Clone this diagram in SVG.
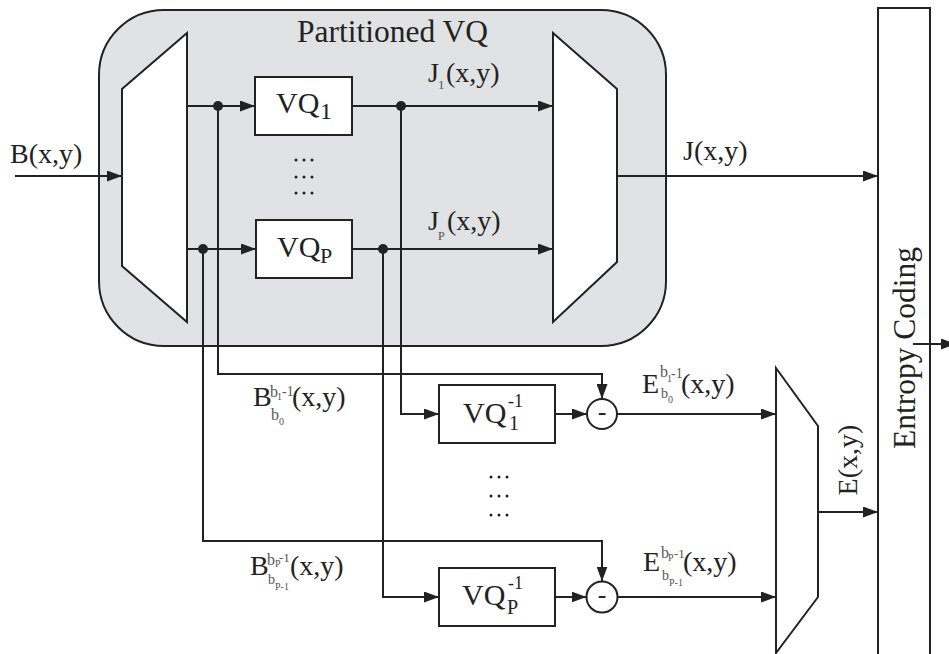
<svg xmlns="http://www.w3.org/2000/svg" width="949" height="654" viewBox="0 0 949 654" font-family="'Liberation Serif', 'DejaVu Serif', serif">
<defs>
<marker id="ah" markerUnits="userSpaceOnUse" markerWidth="15" markerHeight="11" refX="15" refY="5.5" orient="auto"><path d="M0,0 L15,5.5 L0,11 z" fill="#222"/></marker>
</defs>
<style>
.w{fill:#fff;stroke:#222;stroke-width:2}
.c{fill:none;stroke:#222;stroke-width:2;marker-end:url(#ah)}
.d{fill:#222}
text{font-family:'Liberation Serif','DejaVu Serif',serif;fill:#222}
.m{font-size:28px}
.t{font-size:30px}
.g{fill:#555}
</style>
<rect width="949" height="654" fill="#fff"/>

<g id="partitioned-vq">
<rect x="99" y="10" width="567" height="336" rx="65" fill="#e1e2e4" stroke="#222" stroke-width="2"/>
<text x="297" y="42" class="t" style="font-size:31.5px">Partitioned VQ</text>
</g>

<g id="demux"><polygon class="w" points="187,33 122,89 122,266 187,322"/></g>
<g id="mux"><polygon class="w" points="553,33 617,89 617,262 553,322"/></g>

<g id="vq1"><rect class="w" x="255" y="77" width="97" height="58"/>
<text class="t" x="276" y="113">VQ<tspan font-size="24" x="320" y="119">1</tspan></text></g>
<g id="vqp"><rect class="w" x="256" y="220" width="96" height="58"/>
<text class="t" x="277" y="257">VQ<tspan font-size="22" x="320" y="263">P</tspan></text></g>

<g id="dots-top" class="d">
<circle cx="296" cy="160" r="1.5"/><circle cx="304" cy="160" r="1.5"/><circle cx="312" cy="160" r="1.5"/>
<circle cx="296" cy="177" r="1.5"/><circle cx="304" cy="177" r="1.5"/><circle cx="312" cy="177" r="1.5"/>
<circle cx="296" cy="193" r="1.5"/><circle cx="304" cy="193" r="1.5"/><circle cx="312" cy="193" r="1.5"/>
</g>

<g id="vq1inv"><rect class="w" x="439" y="385" width="116" height="58"/>
<text class="t" x="463" y="423">VQ<tspan font-size="18" x="508" y="407">-1</tspan><tspan font-size="20" x="509" y="430">1</tspan></text></g>
<g id="vqpinv"><rect class="w" x="439" y="568" width="116" height="58"/>
<text class="t" x="462" y="605">VQ<tspan font-size="18" x="508" y="589">-1</tspan><tspan font-size="20" x="507" y="614">P</tspan></text></g>

<g id="dots-bottom" class="d">
<circle cx="491" cy="477" r="1.5"/><circle cx="499" cy="477" r="1.5"/><circle cx="507" cy="477" r="1.5"/>
<circle cx="491" cy="496" r="1.5"/><circle cx="499" cy="496" r="1.5"/><circle cx="507" cy="496" r="1.5"/>
<circle cx="491" cy="515" r="1.5"/><circle cx="499" cy="515" r="1.5"/><circle cx="507" cy="515" r="1.5"/>
</g>

<g id="sub1"><circle class="w" cx="602" cy="414" r="15"/><text x="602" y="420" font-size="26" text-anchor="middle">-</text></g>
<g id="subp"><circle class="w" cx="602" cy="597" r="15.5"/><text x="602" y="603" font-size="26" text-anchor="middle">-</text></g>

<g id="emux"><polygon class="w" points="776,368 818,426 818,597 776,653"/></g>

<g id="entropy-coding"><rect class="w" x="878" y="8" width="52" height="660"/>
<text transform="translate(915,348) rotate(-90)" text-anchor="middle" style="font-size:31.5px">Entropy Coding</text></g>

<g id="connectors">
<path class="c" d="M15,176 H122"/>
<path class="c" d="M187,106 H255"/>
<path class="c" d="M187,249 H256"/>
<path class="c" d="M352,106 H553"/>
<path class="c" d="M352,249 H553"/>
<path class="c" d="M617,176 H878"/>
<path class="c" d="M818,512 H878"/>
<path class="c" d="M913,344 H956"/>
<path class="c" d="M218,106 V374 H602 V399"/>
<path class="c" d="M203,249 V541 H602 V581.5"/>
<path class="c" d="M401,106 V414 H439"/>
<path class="c" d="M383,249 V597 H439"/>
<path class="c" d="M555,414 H587"/>
<path class="c" d="M555,597 H586.5"/>
<path class="c" d="M617,414 H776"/>
<path class="c" d="M617.5,597 H776"/>
<circle class="d" cx="218" cy="106" r="5"/>
<circle class="d" cx="203" cy="249" r="5"/>
<circle class="d" cx="401" cy="106" r="5"/>
<circle class="d" cx="383" cy="249" r="5"/>
</g>

<g id="labels">
<text class="m" x="10" y="163">B(x,y)</text>
<text class="m" x="683" y="160">J(x,y)</text>
<text class="m" x="428" y="82">J<tspan class="g" font-size="13" x="438" y="89">1</tspan><tspan x="446" y="82">(x,y)</tspan></text>
<text class="m" x="428" y="230">J<tspan class="g" font-size="12" x="438" y="240">P</tspan><tspan x="447" y="230">(x,y)</tspan></text>
<text class="m" x="253" y="406">B<tspan class="g" font-size="16" x="270" y="397">b</tspan><tspan class="g" font-size="10" x="277" y="400">1</tspan><tspan class="g" font-size="14" x="282" y="396">-1</tspan><tspan class="g" font-size="16" x="271" y="420">b</tspan><tspan class="g" font-size="10" x="279" y="425">0</tspan><tspan x="292" y="406">(x,y)</tspan></text>
<text class="m" x="250" y="575">B<tspan class="g" font-size="16" x="267" y="565">b</tspan><tspan class="g" font-size="10" x="275" y="567">P</tspan><tspan class="g" font-size="13" x="279" y="562">-1</tspan><tspan class="g" font-size="14" x="268" y="584">b</tspan><tspan class="g" font-size="10" x="275" y="590">P-1</tspan><tspan x="290" y="575">(x,y)</tspan></text>
<text class="m" x="642" y="393">E<tspan class="g" font-size="16" x="660" y="377">b</tspan><tspan class="g" font-size="10" x="667" y="382">1</tspan><tspan class="g" font-size="14" x="671" y="378">-1</tspan><tspan class="g" font-size="14" x="661" y="398">b</tspan><tspan class="g" font-size="10" x="668" y="403">0</tspan><tspan x="681" y="393">(x,y)</tspan></text>
<text class="m" x="643" y="571">E<tspan class="g" font-size="16" x="661" y="558">b</tspan><tspan class="g" font-size="10" x="668" y="561">P</tspan><tspan class="g" font-size="13" x="674" y="558">-1</tspan><tspan class="g" font-size="14" x="662" y="580">b</tspan><tspan class="g" font-size="10" x="669" y="586">P-1</tspan><tspan x="683" y="571">(x,y)</tspan></text>
<text class="m" transform="translate(857,460) rotate(-90)" text-anchor="middle">E(x,y)</text>
</g>
</svg>
